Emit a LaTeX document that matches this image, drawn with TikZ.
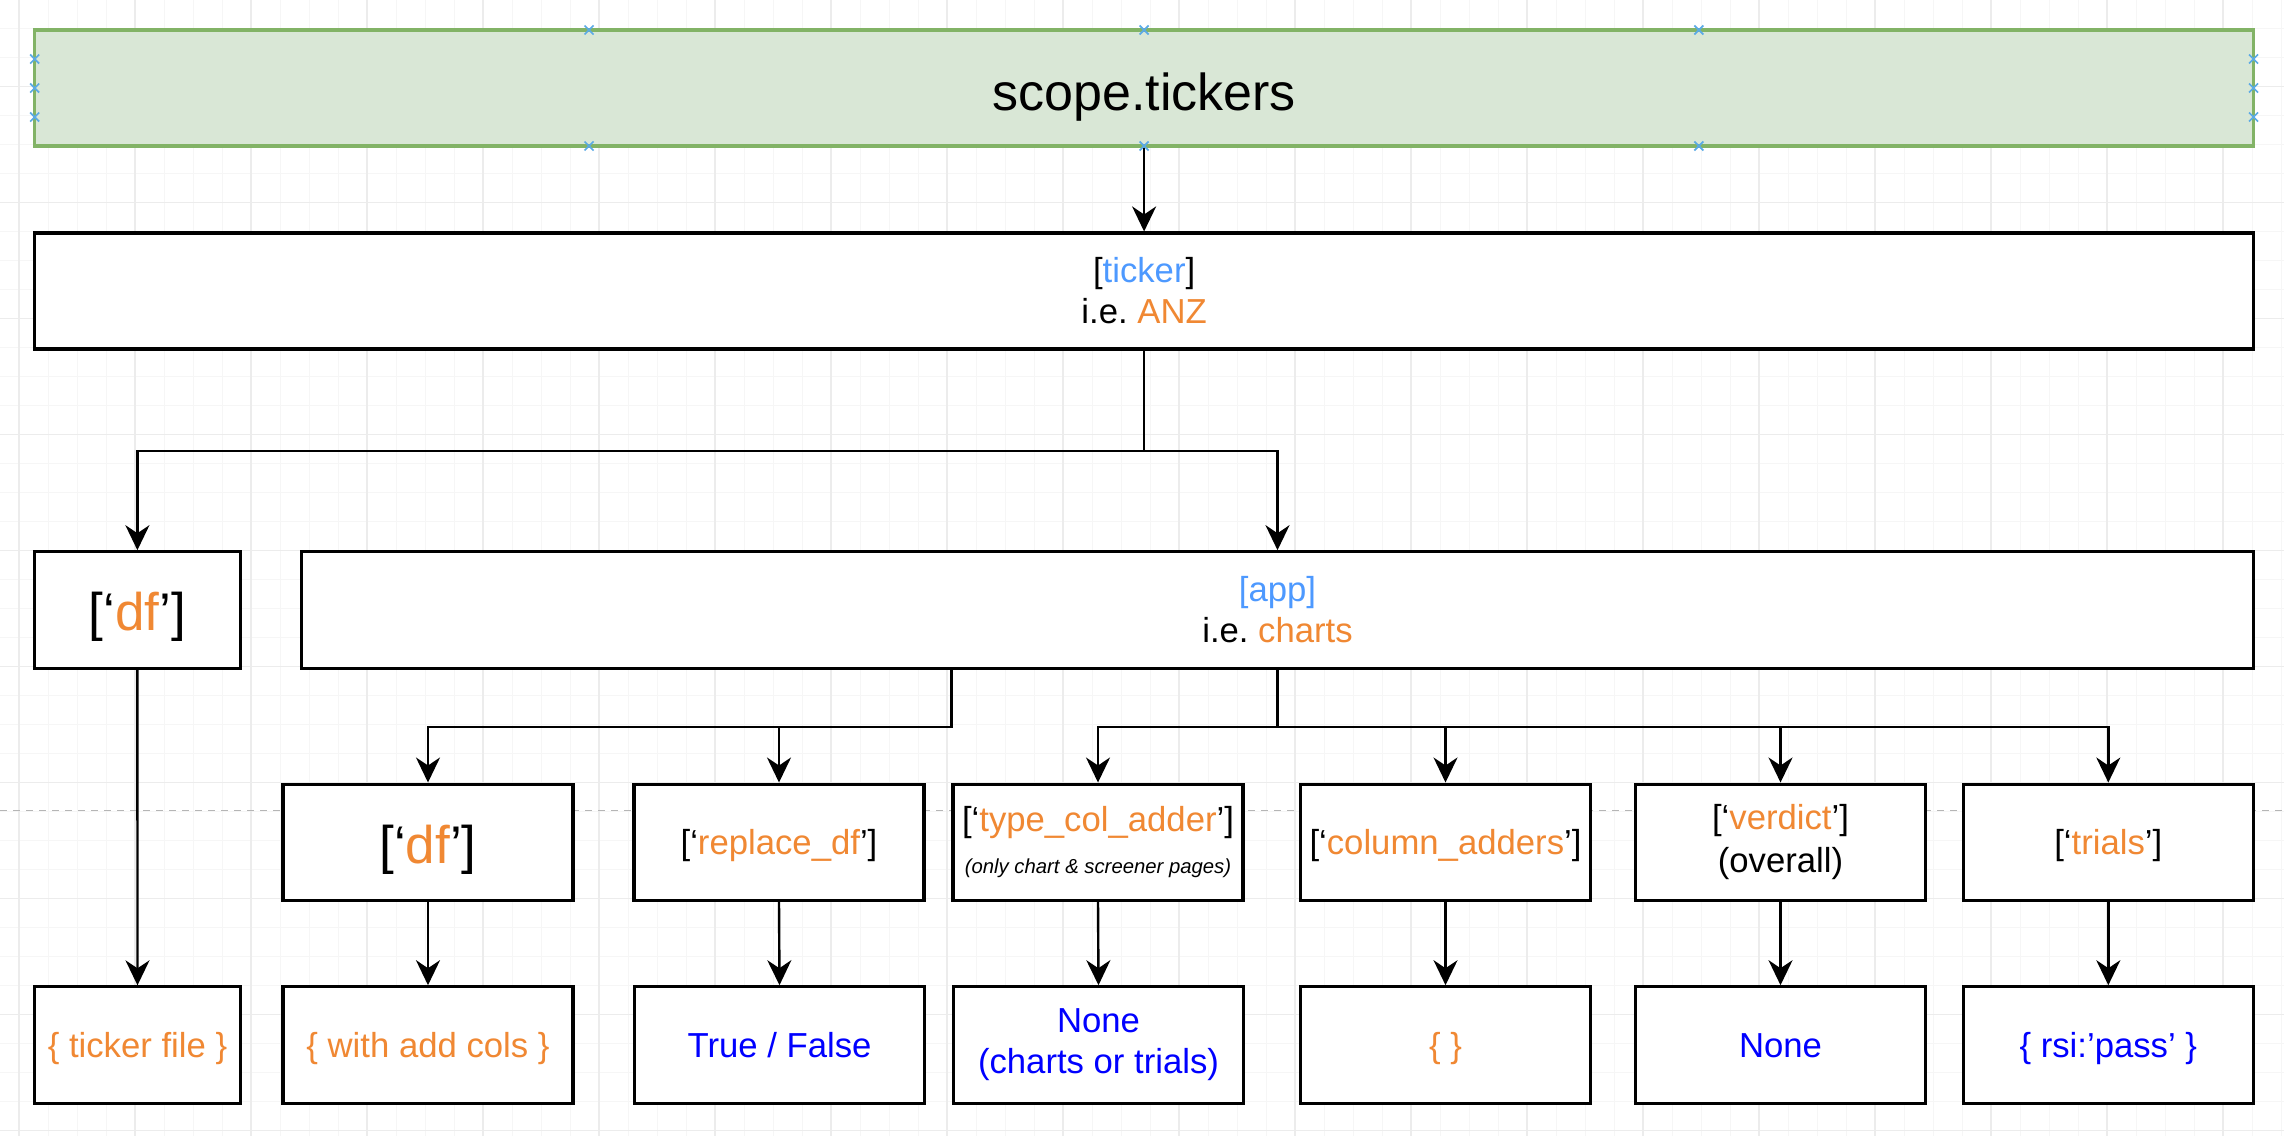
\documentclass[tikz,border=0pt]{standalone}
\usepackage{fontspec}
\setmainfont{Liberation Sans}
\usetikzlibrary{arrows.meta,calc}
\frenchspacing
\definecolor{gfill}{HTML}{D9E7D6}
\definecolor{gline}{HTML}{82B366}
\definecolor{orng}{RGB}{240,136,51}
\definecolor{lblue}{RGB}{77,153,255}
\definecolor{dblue}{RGB}{0,0,255}
\definecolor{markc}{RGB}{90,170,230}
\definecolor{gridmin}{HTML}{F6F6F6}
\definecolor{gridmaj}{HTML}{ECECEC}
\definecolor{dashc}{HTML}{B5B5B5}
\newcommand\fN{\fontsize{17.35pt}{20.5pt}\selectfont}
\newcommand\fB{\fontsize{26.5pt}{31pt}\selectfont}
\newcommand\fT{\fontsize{26pt}{31pt}\selectfont}
\newcommand\fS{\fontsize{10.15pt}{12pt}\selectfont\itshape}
\begin{document}
\begin{tikzpicture}[x=0.5pt,y=-0.5pt,
  box/.style={draw=black, line width=1.55pt, fill=white, rectangle, inner sep=0pt, align=center, font=\fN},
  wide/.style={box, minimum width=1109.4pt, minimum height=58pt},
  small/.style={box, minimum width=103pt, minimum height=58.15pt},
  cell/.style={box, minimum width=145pt, minimum height=58.25pt},
  one/.style={text height=16pt, text depth=3.4pt},
  big/.style={font=\fB, text height=21.5pt, text depth=0.5pt},
  arr/.style={line width=1.2pt, -{Stealth[length=12.5pt, width=12pt, inset=4pt]}},
  gmin/.style={gridmin, line width=0.5pt},
  gmaj/.style={gridmaj, line width=0.7pt},
  xmark/.style={markc, line width=0.85pt}]
\useasboundingbox (0,0) rectangle (2284,1136);
\fill[white] (0,0) rectangle (2284,1136);
% background grid
\foreach \i in {0,...,78} {\draw[gmin] ({19+29*\i},0) -- ({19+29*\i},1136);}
\foreach \j in {0,...,39} {\draw[gmin] (0,{-0.3+29*\j}) -- (2284,{-0.3+29*\j});}
\foreach \i in {0,...,19} {\draw[gmaj] ({19+116*\i},0) -- ({19+116*\i},1136);}
\foreach \j in {0,...,9} {\draw[gmaj] (0,{86.7+116*\j}) -- (2284,{86.7+116*\j});}
% dashed guide
\draw[dashc, line width=0.75pt, dash pattern=on 3.5pt off 3pt] (0,810.7) -- (2284,810.7);

% nodes
\node[wide, draw=gline, fill=gfill, font=\fT, text height=22.5pt, text depth=0.5pt] (top) at (1144.1,88) {scope.tickers};
\node[wide] (ticker) at (1144.1,291) {[\textcolor{lblue}{ticker}]\\i.e. \textcolor{orng}{ANZ}};
\node[small, big] (df) at (137.4,609.9) {[‘\textcolor{orng}{df}’]};
\node[box, minimum width=976pt, minimum height=58.15pt] (app) at (1277.5,609.9) {\textcolor{lblue}{[app]}\\i.e. \textcolor{orng}{charts}};

\node[cell, big] (c1) at (428,842.3) {[‘\textcolor{orng}{df}’]};
\node[cell, one] (c2) at (779,842.3) {[‘\textcolor{orng}{replace\_df}’]};
\node[cell] (c3) at (1098,842.3) {[‘\textcolor{orng}{type\_col\_adder}’]\\[0.6pt]{\fS (only chart \& screener pages)}};
\node[cell, one] (c4) at (1445.5,842.3) {[‘\textcolor{orng}{column\_adders}’]};
\node[cell] (c5) at (1780.5,842.3) {[‘\textcolor{orng}{verdict}’]\\[1pt](overall)};
\node[cell, one] (c6) at (2108.3,842.3) {[‘\textcolor{orng}{trials}’]};

\node[small, one, text=orng] (tf) at (137.5,1045) {\{ ticker file \}};
\node[cell, one, text=orng] (d1) at (428,1045) {\{ with add cols \}};
\node[cell, one, text=dblue] (d2) at (779.5,1045) {True / False};
\node[cell, text=dblue] (d3) at (1098.5,1045) {None\\(charts or trials)};
\node[cell, one, text=orng] (d4) at (1445.5,1045) {\{ \}};
\node[cell, one, text=dblue] (d5) at (1780.5,1045) {None};
\node[cell, one, text=dblue] (d6) at (2108.3,1045) {\{ rsi:’pass’ \}};

% connection markers on the top box
\foreach \p in {(589,30),(1144.1,30),(1698.8,30),(589,146),(1144.1,146),(1698.8,146),
  (34.7,59),(34.7,88),(34.7,117),(2253.5,59),(2253.5,88),(2253.5,117)}
  {\draw[xmark] \p +(-4.5,-4.5) -- +(4.5,4.5) \p +(-4.5,4.5) -- +(4.5,-4.5);}

% bus levels
\coordinate (b1) at (0,450.7);
\coordinate (b2) at (0,726.7);

% connectors
\draw[arr] (top.south) -- (ticker.north);
\draw[arr] (ticker.south) |- (b1 -| df.north) -- (df.north);
\draw[arr] (ticker.south) |- (b1 -| app.north) -- (app.north);
\draw[arr] (df.south) -- (tf.north);
\draw[arr] (c3.west |- app.south) |- (b2 -| c1.north) -- (c1.north);
\draw[arr] (c3.west |- app.south) |- (b2 -| c2.north) -- (c2.north);
\draw[arr] (app.south) |- (b2 -| c3.north) -- (c3.north);
\draw[arr] (app.south) |- (b2 -| c4.north) -- (c4.north);
\draw[arr] (app.south) |- (b2 -| c5.north) -- (c5.north);
\draw[arr] (app.south) |- (b2 -| c6.north) -- (c6.north);
\draw[arr] (c1.south) -- (d1.north);
\draw[arr] (c2.south) -- (d2.north);
\draw[arr] (c3.south) -- (d3.north);
\draw[arr] (c4.south) -- (d4.north);
\draw[arr] (c5.south) -- (d5.north);
\draw[arr] (c6.south) -- (d6.north);
\end{tikzpicture}
\end{document}
